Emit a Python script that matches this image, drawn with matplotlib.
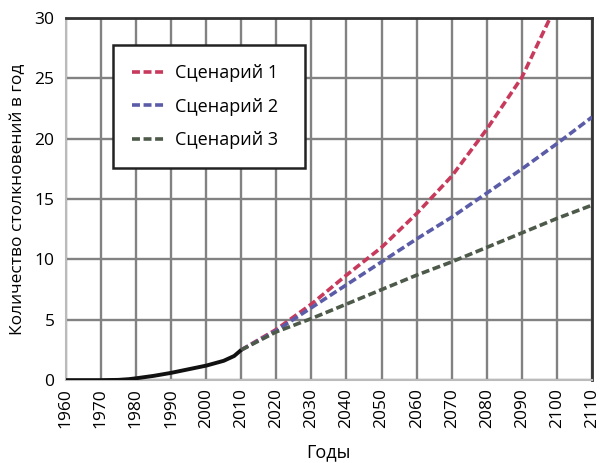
import matplotlib
matplotlib.use("Agg")
import matplotlib.pyplot as plt
import numpy as np

plt.rcParams['font.family'] = ['Open Sans', 'DejaVu Sans']

hist_years = [1960, 1965, 1970, 1975, 1978, 1980, 1985, 1990, 1995, 2000, 2005, 2008, 2010]
hist_vals = [0.0, 0.0, 0.0, 0.02, 0.08, 0.15, 0.35, 0.6, 0.9, 1.2, 1.6, 2.0, 2.5]

scen_years = [2010, 2020, 2030, 2040, 2050, 2060, 2070, 2080, 2090, 2098]
scen1 = [2.5, 4.2, 6.3, 8.7, 11.0, 13.8, 16.9, 20.8, 25.1, 30.0]

scen_years2 = [2010, 2020, 2030, 2040, 2050, 2060, 2070, 2080, 2090, 2100, 2110]
scen2 = [2.5, 4.1, 6.0, 7.9, 9.8, 11.7, 13.5, 15.5, 17.5, 19.6, 21.8]
scen3 = [2.5, 4.0, 5.1, 6.3, 7.5, 8.7, 9.8, 11.0, 12.2, 13.4, 14.5]

labels = ['Сценарий 1', 'Сценарий 2', 'Сценарий 3']
colors = ['#c83a5c', '#5b5ca8', '#4d5a4a']

fig = plt.figure(figsize=(6.03, 4.63), dpi=100)
ax = fig.add_axes([0.109, 0.179, 0.873, 0.782])

ax.plot(scen_years, scen1, color=colors[0], lw=2.6, ls=(0, (2.2, 1.0)), label=labels[0], zorder=3)
ax.plot(scen_years2, scen2, color=colors[1], lw=2.6, ls=(0, (2.2, 1.0)), label=labels[1], zorder=3)
ax.plot(scen_years2, scen3, color=colors[2], lw=2.6, ls=(0, (2.2, 1.0)), label=labels[2], zorder=3)
ax.plot(hist_years, hist_vals, color='#111111', lw=2.8, zorder=4, solid_capstyle='butt')

ax.set_xlim(1960, 2110)
ax.set_ylim(0, 30)
ax.set_xticks(np.arange(1960, 2111, 10))
ax.set_yticks(np.arange(0, 31, 5))
ax.tick_params(axis='x', labelrotation=90, labelsize=12.5, length=0, pad=6)
ax.tick_params(axis='y', labelsize=12.5, length=0, pad=8)
ax.grid(True, color='#828282', lw=1.7)
ax.set_axisbelow(True)

ax.spines['top'].set_color('#333333')
ax.spines['top'].set_linewidth(2.0)
ax.spines['right'].set_color('#333333')
ax.spines['right'].set_linewidth(2.0)
ax.spines['left'].set_color('#bbbbbb')
ax.spines['left'].set_linewidth(1.5)
ax.spines['bottom'].set_color('#bbbbbb')
ax.spines['bottom'].set_linewidth(1.5)

ax.set_xlabel('Годы', fontsize=13, labelpad=11)
ax.set_ylabel('Количество столкновений в год', fontsize=12.5, labelpad=6)

leg = ax.legend(loc='upper left', bbox_to_anchor=(0.089, 0.5, 0.365, 0.425), mode='expand',
                fontsize=13, frameon=True, fancybox=False, shadow=False, borderpad=1.05,
                labelspacing=0.85, handlelength=1.8, handletextpad=0.6, borderaxespad=0)
leg.get_frame().set_edgecolor('#222222')
leg.get_frame().set_linewidth(1.8)
leg.get_frame().set_facecolor('white')
leg.get_frame().set_alpha(1)

fig.savefig('out.png', dpi=100)
